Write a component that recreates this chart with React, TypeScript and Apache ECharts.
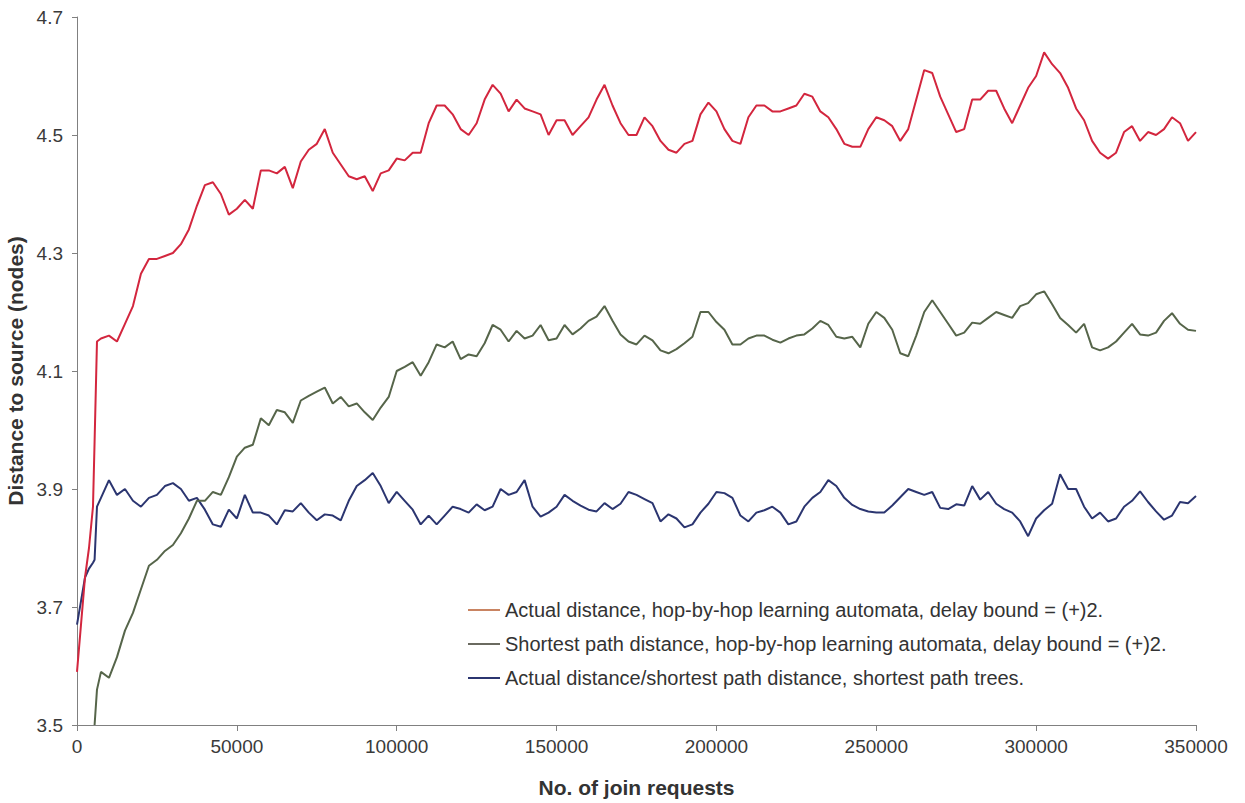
import React, { useEffect, useRef } from "react";
import * as echarts from "echarts";

const joinRequests: number[] = [
  0, 1250, 2500, 3750, 5000, 5500, 6250,
  7500, 10000, 12500, 15000, 17500, 20000, 22500, 25000, 27500, 30000,
  32500, 35000, 37500, 40000, 42500, 45000, 47500, 50000, 52500, 55000,
  57500, 60000, 62500, 65000, 67500, 70000, 72500, 75000, 77500, 80000,
  82500, 85000, 87500, 90000, 92500, 95000, 97500, 100000, 102500, 105000,
  107500, 110000, 112500, 115000, 117500, 120000, 122500, 125000, 127500, 130000,
  132500, 135000, 137500, 140000, 142500, 145000, 147500, 150000, 152500, 155000,
  157500, 160000, 162500, 165000, 167500, 170000, 172500, 175000, 177500, 180000,
  182500, 185000, 187500, 190000, 192500, 195000, 197500, 200000, 202500, 205000,
  207500, 210000, 212500, 215000, 217500, 220000, 222500, 225000, 227500, 230000,
  232500, 235000, 237500, 240000, 242500, 245000, 247500, 250000, 252500, 255000,
  257500, 260000, 262500, 265000, 267500, 270000, 272500, 275000, 277500, 280000,
  282500, 285000, 287500, 290000, 292500, 295000, 297500, 300000, 302500, 305000,
  307500, 310000, 312500, 315000, 317500, 320000, 322500, 325000, 327500, 330000,
  332500, 335000, 337500, 340000, 342500, 345000, 347500, 350000,
];

const actualLA: number[] = [
  3.59, 3.67, 3.75, 3.8, 3.87, 3.98, 4.15,
  4.155, 4.16, 4.15, 4.18, 4.21, 4.265, 4.29, 4.29, 4.295, 4.3,
  4.315, 4.34, 4.38, 4.415, 4.42, 4.4, 4.365, 4.375, 4.39, 4.375,
  4.44, 4.44, 4.435, 4.446, 4.41, 4.455, 4.475, 4.485, 4.51, 4.47,
  4.45, 4.43, 4.425, 4.43, 4.405, 4.435, 4.44, 4.46, 4.457, 4.47,
  4.47, 4.52, 4.55, 4.55, 4.535, 4.51, 4.5, 4.52, 4.56, 4.585,
  4.57, 4.54, 4.56, 4.545, 4.54, 4.535, 4.5, 4.525, 4.525, 4.5,
  4.515, 4.53, 4.56, 4.585, 4.55, 4.52, 4.5, 4.5, 4.53, 4.515,
  4.49, 4.475, 4.47, 4.485, 4.49, 4.535, 4.555, 4.54, 4.51, 4.49,
  4.485, 4.53, 4.55, 4.55, 4.54, 4.54, 4.545, 4.55, 4.57, 4.565,
  4.54, 4.53, 4.51, 4.485, 4.48, 4.48, 4.51, 4.53, 4.525, 4.515,
  4.49, 4.51, 4.56, 4.61, 4.605, 4.565, 4.535, 4.505, 4.51, 4.56,
  4.56, 4.575, 4.575, 4.545, 4.52, 4.55, 4.58, 4.6, 4.64, 4.62,
  4.605, 4.58, 4.545, 4.525, 4.49, 4.47, 4.46, 4.47, 4.505, 4.515,
  4.49, 4.505, 4.5, 4.51, 4.53, 4.52, 4.49, 4.505,
];

const shortestLA: (number | null)[] = [
  null, null, null, null, null, 3.5, 3.56,
  3.59, 3.58, 3.615, 3.66, 3.69, 3.73, 3.77, 3.78, 3.795, 3.805,
  3.825, 3.85, 3.88, 3.88, 3.895, 3.89, 3.92, 3.955, 3.97, 3.975,
  4.02, 4.008, 4.034, 4.03, 4.012, 4.05, 4.058, 4.065, 4.072, 4.045,
  4.056, 4.04, 4.045, 4.03, 4.017, 4.038, 4.056, 4.1, 4.107, 4.115,
  4.092, 4.115, 4.145, 4.14, 4.15, 4.12, 4.128, 4.125, 4.147, 4.178,
  4.17, 4.15, 4.168, 4.155, 4.16, 4.178, 4.152, 4.155, 4.178, 4.162,
  4.172, 4.185, 4.192, 4.21, 4.185, 4.162, 4.15, 4.145, 4.16, 4.152,
  4.135, 4.13, 4.137, 4.147, 4.158, 4.2, 4.2, 4.183, 4.17, 4.145,
  4.145, 4.155, 4.16, 4.16, 4.153, 4.148, 4.155, 4.16, 4.162, 4.172,
  4.185, 4.178, 4.158, 4.155, 4.158, 4.14, 4.18, 4.2, 4.19, 4.17,
  4.13, 4.125, 4.16, 4.2, 4.22, 4.2, 4.18, 4.16, 4.165, 4.182,
  4.18, 4.19, 4.2, 4.195, 4.19, 4.21, 4.215, 4.23, 4.235, 4.213,
  4.19, 4.178, 4.165, 4.18, 4.14, 4.135, 4.14, 4.15, 4.165, 4.18,
  4.162, 4.16, 4.165, 4.185, 4.198, 4.18, 4.17, 4.168,
];

const shortestTrees: number[] = [
  3.67, 3.71, 3.75, 3.765, 3.775, 3.78, 3.87,
  3.885, 3.915, 3.89, 3.9, 3.88, 3.87, 3.885, 3.89, 3.905, 3.91,
  3.9, 3.88, 3.885, 3.865, 3.84, 3.836, 3.865, 3.85, 3.89, 3.86,
  3.86, 3.855, 3.84, 3.864, 3.862, 3.876, 3.86, 3.847, 3.857, 3.855,
  3.847, 3.88, 3.905, 3.915, 3.927, 3.905, 3.876, 3.895, 3.88, 3.865,
  3.84, 3.855, 3.84, 3.855, 3.87, 3.866, 3.86, 3.874, 3.864, 3.87,
  3.9, 3.89, 3.895, 3.915, 3.87, 3.853, 3.86, 3.87, 3.89, 3.88,
  3.872, 3.865, 3.862, 3.876, 3.866, 3.875, 3.895, 3.89, 3.883, 3.876,
  3.845, 3.857, 3.85, 3.835, 3.84, 3.86, 3.875, 3.895, 3.893, 3.885,
  3.855, 3.845, 3.86, 3.864, 3.87, 3.86, 3.84, 3.845, 3.87, 3.885,
  3.895, 3.915, 3.905, 3.885, 3.873, 3.866, 3.862, 3.86, 3.86, 3.872,
  3.886, 3.9, 3.895, 3.89, 3.895, 3.868, 3.866, 3.874, 3.872, 3.905,
  3.882, 3.895, 3.875, 3.866, 3.86, 3.845, 3.82, 3.85, 3.864, 3.875,
  3.925, 3.9, 3.9, 3.87, 3.85, 3.86, 3.845, 3.85, 3.87, 3.88,
  3.896, 3.878, 3.862, 3.848, 3.855, 3.878, 3.876, 3.888,
];

const yTicks: number[] = [3.5, 3.7, 3.9, 4.1, 4.3, 4.5, 4.7];

const seriesNames: string[] = [
  "Actual distance, hop-by-hop learning automata, delay bound = (+)2.",
  "Shortest path distance, hop-by-hop learning automata, delay bound = (+)2.",
  "Actual distance/shortest path distance, shortest path trees.",
];

const lineColors = ["#d3263e", "#56654a", "#2b3570"];
const legendColors = ["#c98462", "#6a6a60", "#2b3570"];

const pair = (vals: (number | null)[]) =>
  joinRequests.map((x, i) => [x, vals[i]]);

export default function App() {
  const ref = useRef<HTMLDivElement>(null);
  useEffect(() => {
    if (!ref.current) return;
    const chart = echarts.init(ref.current, null, { renderer: "svg" });
    const font = "Arial, 'Liberation Sans', Helvetica, sans-serif";
    const allVals = [actualLA, shortestLA, shortestTrees];
    chart.setOption({
      animation: false,
      backgroundColor: "#ffffff",
      textStyle: { fontFamily: font },
      grid: {
        left: 77,
        right: 49,
        top: 17,
        bottom: 78,
        containLabel: false,
        outerBoundsMode: "none",
      },
      xAxis: {
        type: "value",
        min: 0,
        max: 350000,
        interval: 50000,
        name: "No. of join requests",
        nameLocation: "middle",
        nameGap: 52,
        nameTextStyle: { fontSize: 21, fontWeight: "bold", color: "#333", fontFamily: font },
        axisLine: { lineStyle: { color: "#808080", width: 1 } },
        axisTick: { show: true, length: 6, lineStyle: { color: "#808080" } },
        axisLabel: {
          fontSize: 19,
          color: "#3a3a3a",
          margin: 12,
          fontFamily: font,
          formatter: (v: number) => String(Math.round(v)),
        },
        splitLine: { show: false },
      },
      yAxis: {
        type: "value",
        min: 3.5,
        max: 4.7,
        name: "Distance to source (nodes)",
        nameLocation: "middle",
        nameGap: 48,
        nameRotate: 90,
        nameTextStyle: { fontSize: 21, fontWeight: "bold", color: "#333", fontFamily: font },
        axisLine: { show: true, lineStyle: { color: "#808080", width: 1 } },
        axisTick: { show: true, length: 5, customValues: yTicks, lineStyle: { color: "#808080" } },
        axisLabel: {
          fontSize: 19,
          color: "#3a3a3a",
          margin: 14,
          customValues: yTicks,
          formatter: (v: number) => v.toFixed(1),
          fontFamily: font,
        },
        splitLine: { show: false },
      },
      legend: {
        orient: "vertical",
        left: 463,
        top: 594,
        itemWidth: 32,
        itemHeight: 2,
        itemGap: 12,
        icon: "rect",
        textStyle: { fontSize: 20, color: "#333", fontFamily: font, lineHeight: 22 },
        data: seriesNames.map((n, i) => ({ name: n, itemStyle: { color: legendColors[i] } })),
      },
      series: seriesNames.map((n, i) => ({
        name: n,
        type: "line",
        data: pair(allVals[i]),
        showSymbol: false,
        symbol: "none",
        connectNulls: false,
        lineStyle: { color: lineColors[i], width: 2 },
        itemStyle: { color: lineColors[i] },
        z: 3 - i,
      })),
    });
    return () => chart.dispose();
  }, []);
  return (
    <div
      ref={ref}
      style={{ position: "fixed", left: 0, top: 0, width: 1245, height: 803, background: "#fff" }}
    />
  );
}
